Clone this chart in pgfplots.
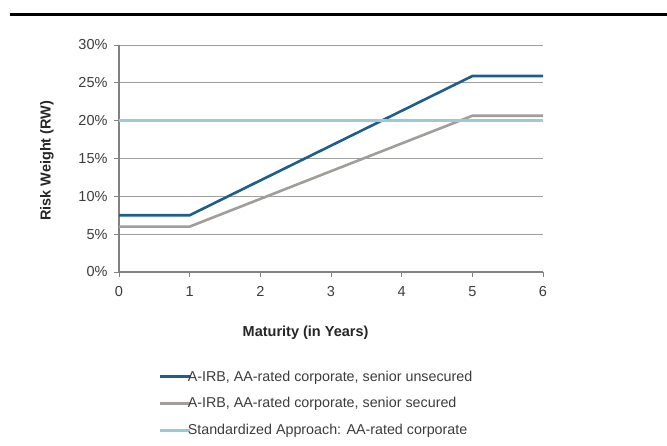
\documentclass[border=0pt]{standalone}
\usepackage{fontspec}
\setmainfont{Liberation Sans}
\usepackage{pgfplots}
\pgfplotsset{compat=1.18}
\definecolor{dblue}{RGB}{31,93,138}
\definecolor{lgray}{RGB}{160,157,154}
\definecolor{lblue}{RGB}{152,203,214}
\definecolor{gridc}{RGB}{160,160,160}
\definecolor{axc}{RGB}{130,130,130}
\definecolor{txt}{RGB}{60,60,60}
\begin{document}
\begin{tikzpicture}[x=1pt,y=1pt]
\path[use as bounding box] (0,0) rectangle (667,445);
\draw[black, line width=3pt] (10,430) -- (667,430);
\begin{axis}[
  at={(119pt,173pt)}, anchor=origin,
  scale only axis, width=424pt, height=227pt,
  xmin=0, xmax=6, ymin=0, ymax=30,
  xtick={0,...,6}, ytick={0,5,...,30},
  axis x line*=bottom, axis y line*=left,
  axis line style={axc, line width=1.2pt},
  every axis plot/.append style={line width=2.6pt},
  ymajorgrids, grid style={gridc, line width=0.8pt},
  tick style={axc, line width=0.8pt},
  tick align=outside, major tick length=5pt,
  /pgf/number format/assume math mode=true,
  yticklabel={\pgfmathprintnumber{\tick}\%},
  ticklabel style={font=\fontsize{14.5}{16}\selectfont, text=txt},
  xticklabel style={yshift=-6pt},
  yticklabel style={xshift=-3pt},
  xlabel={\textbf{Maturity (in Years)}},
  ylabel={\textbf{Risk Weight (RW)}},
  label style={font=\fontsize{14.5}{17}\selectfont, text=black!85},
  xlabel style={at={(axis description cs:0.44,0)}, anchor=center, yshift=-61pt},
  ylabel style={at={(axis description cs:-0.170,0.49)}, anchor=center},
  legend style={at={(axis description cs:0.092,-0.425)}, anchor=north west,
    draw=none, fill=none, font=\fontsize{14.3}{16}\selectfont, text=txt,
    row sep=11pt, inner sep=0pt},
  legend cell align=left,
  legend image code/.code={\draw[#1, line width=2.6pt] (0pt,0pt) -- (30pt,0pt);},
]
\addplot[dblue] coordinates {(0,7.5) (1,7.5) (5,25.9) (6,25.9)};
\addlegendentry{\hspace{-5pt}A-IRB, AA-rated corporate, senior unsecured}
\addplot[lgray] coordinates {(0,6.0) (1,6.0) (5,20.65) (6,20.65)};
\addlegendentry{\hspace{-5pt}A-IRB, AA-rated corporate, senior secured}
\addplot[lblue] coordinates {(0,20) (6,20)};
\addlegendentry{\hspace{-5pt}Standardized Approach: AA-rated corporate}
\end{axis}
\end{tikzpicture}
\end{document}
